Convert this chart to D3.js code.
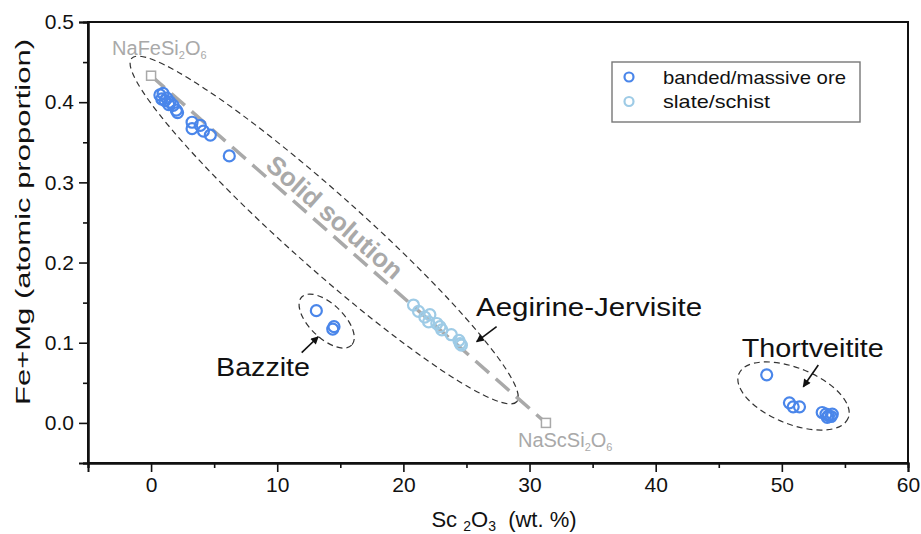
<!DOCTYPE html>
<html>
<head>
<meta charset="utf-8">
<script src="https://cdn.jsdelivr.net/npm/d3@7"></script>
<style>
  body { margin: 0; background: #fff; }
  svg text { font-family: "Liberation Sans", Arial, sans-serif; }
</style>
</head>
<body>
<div id="chart"></div>
<script>
// Sc2O3 (wt.%) vs Fe+Mg (apfu)
var oreSc    = [0.7, 0.85, 0.95, 1.1, 1.25, 1.4, 1.5, 1.75, 2.0, 2.1, 3.25, 3.25, 3.9, 4.15, 4.7, 6.2,
                13.1, 14.4, 14.5,
                48.8, 50.6, 50.9, 51.4, 53.2, 53.5, 53.6, 53.7, 53.9, 54.0];
var oreFeMg  = [0.409, 0.404, 0.411, 0.402, 0.405, 0.397, 0.400, 0.396, 0.390, 0.387, 0.375, 0.367, 0.371, 0.364, 0.359, 0.333,
                0.140, 0.117, 0.120,
                0.060, 0.025, 0.020, 0.020, 0.013, 0.011, 0.007, 0.009, 0.008, 0.011];
var slateSc   = [20.8, 21.2, 21.7, 22.1, 22.0, 22.65, 22.9, 23.05, 23.8, 24.4, 24.5, 24.6];
var slateFeMg = [0.147, 0.139, 0.132, 0.135, 0.126, 0.124, 0.120, 0.116, 0.110, 0.103, 0.099, 0.097];

var endNames = ["NaFeSi", "NaScSi"];
var endSc    = [0, 31.3];
var endFeMg  = [0.433, 0];

var xTicks = [0, 10, 20, 30, 40, 50, 60];
var xMinor = [-5, 5, 15, 25, 35, 45, 55];
var yTicks = [0.0, 0.1, 0.2, 0.3, 0.4, 0.5];
var yMinor = [-0.05, 0.05, 0.15, 0.25, 0.35, 0.45];

var seriesNames = ["banded/massive ore", "slate/schist"];

// field ellipses: tip-to-tip in data units
var fieldTips = [
  [[-1.54, 0.4547], [28.98, 0.0264]],
  [[11.94, 0.157], [15.9, 0.097]],
  [[46.59, 0.0611], [55.26, 0.006]]
];
var fieldNames = ["Aegirine-Jervisite", "Bazzite", "Thortveitite"];
var arrowFrom = [[27.39, 0.120], [11.94, 0.0876], [52.89, 0.0722]];
var arrowTo   = [[25.81, 0.1013], [13.25, 0.1075], [51.70, 0.0451]];
var labelAt   = [[25.76, 0.1333], [5.15, 0.0585], [46.82, 0.0826]];

var width = 921, height = 534;
var margin = {top: 22, right: 13, bottom: 71, left: 88};
var oreColor = "#4a86ea", slateColor = "#9ecbe6", grey = "#a9a9a9";

var svg = d3.select("#chart").append("svg")
  .attr("width", width).attr("height", height);

var defs = svg.append("defs");
defs.append("marker").attr("id", "head")
  .attr("viewBox", "0 0 10 10").attr("refX", 9).attr("refY", 5)
  .attr("markerWidth", 9).attr("markerHeight", 8).attr("markerUnits", "userSpaceOnUse")
  .attr("orient", "auto")
  .append("path").attr("d", "M0,0 L10,5 L0,10 Z").attr("fill", "#111");

var x = d3.scaleLinear().domain([-5, 60]).range([margin.left, width - margin.right]);
var y = d3.scaleLinear().domain([-0.05, 0.5]).range([height - margin.bottom, margin.top]);

// frame
svg.append("rect")
  .attr("x", x(-5)).attr("y", y(0.5))
  .attr("width", x(60) - x(-5)).attr("height", y(-0.05) - y(0.5))
  .attr("fill", "none").attr("stroke", "#111").attr("stroke-width", 2);

function styleAxis(g) {
  g.select(".domain").attr("stroke", "#111").attr("stroke-width", 2);
  g.selectAll(".tick line").attr("stroke", "#111").attr("stroke-width", 1.6);
  g.selectAll(".tick text").attr("fill", "#111").style("font-size", "21px")
    .style("font-family", "'Liberation Sans', Arial, sans-serif");
}

var xb = svg.append("g").attr("transform", "translate(0," + y(-0.05) + ")");
xb.call(d3.axisBottom(x).tickValues(xMinor).tickSize(5).tickFormat("")).call(styleAxis);
xb.append("g").call(d3.axisBottom(x).tickValues(xTicks).tickSize(9).tickPadding(5).tickFormat(d3.format("d"))).call(styleAxis);

var yl = svg.append("g").attr("transform", "translate(" + x(-5) + ",0)");
yl.call(d3.axisLeft(y).tickValues(yMinor).tickSize(5).tickFormat("")).call(styleAxis);
yl.append("g").call(d3.axisLeft(y).tickValues(yTicks).tickSize(9).tickPadding(5).tickFormat(d3.format(".1f"))).call(styleAxis);

// axis titles
var xt = svg.append("text").attr("x", 504).attr("y", 527)
  .attr("text-anchor", "middle").attr("fill", "#111").style("font-size", "22px");
xt.append("tspan").text("Sc ");
xt.append("tspan").text("2").attr("dy", 4).style("font-size", "14px");
xt.append("tspan").text("O").attr("dy", -4);
xt.append("tspan").text("3").attr("dy", 4).style("font-size", "14px");
xt.append("tspan").text("  (wt. %)").attr("dy", -4).style("white-space", "pre");

svg.append("text")
  .attr("transform", "translate(30,222) rotate(-90)")
  .attr("text-anchor", "middle").attr("fill", "#111").style("font-size", "21px")
  .attr("textLength", 366).attr("lengthAdjust", "spacingAndGlyphs")
  .text("Fe+Mg (atomic proportion)");

// solid-solution tie line
svg.append("line")
  .attr("x1", x(endSc[0])).attr("y1", y(endFeMg[0]))
  .attr("x2", x(endSc[1])).attr("y2", y(endFeMg[1]))
  .attr("stroke", grey).attr("stroke-width", 3.5).attr("stroke-dasharray", "18,9");

svg.selectAll(".endm").data(endSc).enter().append("rect")
  .attr("class", "endm")
  .attr("x", function(d) { return x(d) - 4.5; })
  .attr("y", function(d, i) { return y(endFeMg[i]) - 4.5; })
  .attr("width", 9).attr("height", 9)
  .attr("fill", "#fff").attr("stroke", grey).attr("stroke-width", 1.5);

function formula(px, py, stem) {
  var t = svg.append("text").attr("x", px).attr("y", py)
    .attr("fill", grey).style("font-size", "20px");
  t.append("tspan").text(stem);
  t.append("tspan").text("2").attr("dy", 4).style("font-size", "11px");
  t.append("tspan").text("O").attr("dy", -4);
  t.append("tspan").text("6").attr("dy", 4).style("font-size", "11px");
}
formula(x(endSc[0]) - 39, y(endFeMg[0]) - 21, endNames[0]);
formula(x(endSc[1]) - 28, y(endFeMg[1]) + 24, endNames[1]);

// rotated "Solid solution" label
(function() {
  var x1 = x(endSc[0]), y1 = y(endFeMg[0]), x2 = x(endSc[1]), y2 = y(endFeMg[1]);
  var ang = Math.atan2(y2 - y1, x2 - x1) * 180 / Math.PI;
  var cx = x1 + (x2 - x1) * 0.44, cy = y1 + (y2 - y1) * 0.44;
  svg.append("text")
    .attr("transform", "translate(" + cx + "," + cy + ") rotate(" + ang + ") translate(0,-6)")
    .attr("text-anchor", "middle").attr("fill", grey)
    .style("font-size", "26px").style("font-weight", "bold")
    .text("Solid solution");
})();

// dashed field ellipses
var fieldHalf = [37, 17, 28];
fieldTips.forEach(function(tp, i) {
  var ax = x(tp[0][0]), ay = y(tp[0][1]), bx = x(tp[1][0]), by = y(tp[1][1]);
  var cx = (ax + bx) / 2, cy = (ay + by) / 2;
  var a = Math.hypot(bx - ax, by - ay) / 2;
  var ang = Math.atan2(by - ay, bx - ax) * 180 / Math.PI;
  svg.append("ellipse")
    .attr("transform", "translate(" + cx + "," + cy + ") rotate(" + ang + ")")
    .attr("rx", a).attr("ry", fieldHalf[i])
    .attr("fill", "none").attr("stroke", "#333").attr("stroke-width", 1.2)
    .attr("stroke-dasharray", "6,4");
});

// arrows + labels
var labelLen = [226, 94, 142];
fieldNames.forEach(function(name, i) {
  svg.append("line")
    .attr("x1", x(arrowFrom[i][0])).attr("y1", y(arrowFrom[i][1]))
    .attr("x2", x(arrowTo[i][0])).attr("y2", y(arrowTo[i][1]))
    .attr("stroke", "#111").attr("stroke-width", 1.6)
    .attr("marker-end", "url(#head)");
  svg.append("text")
    .attr("x", x(labelAt[i][0])).attr("y", y(labelAt[i][1]))
    .attr("fill", "#111").style("font-size", "26px")
    .attr("textLength", labelLen[i]).attr("lengthAdjust", "spacingAndGlyphs")
    .text(name);
});

// points
svg.append("g").selectAll("circle").data(oreSc).enter().append("circle")
  .attr("cx", function(d) { return x(d); })
  .attr("cy", function(d, i) { return y(oreFeMg[i]); })
  .attr("r", 5.5).attr("fill", "none").attr("stroke", oreColor).attr("stroke-width", 2.2);

svg.append("g").selectAll("circle").data(slateSc).enter().append("circle")
  .attr("cx", function(d) { return x(d); })
  .attr("cy", function(d, i) { return y(slateFeMg[i]); })
  .attr("r", 5.5).attr("fill", "none").attr("stroke", slateColor).attr("stroke-width", 2.2);

// legend
var legendLen = [183, 107];
var lg = svg.append("g").attr("transform", "translate(612,62)");
lg.append("rect").attr("width", 248).attr("height", 60)
  .attr("fill", "#fff").attr("stroke", "#777").attr("stroke-width", 1.4);
lg.selectAll("circle").data(seriesNames).enter().append("circle")
  .attr("cx", 17).attr("cy", function(d, i) { return 15 + i * 24.5; })
  .attr("r", 4.5).attr("fill", "none")
  .attr("stroke", function(d, i) { return i ? slateColor : oreColor; }).attr("stroke-width", 2.2);
lg.selectAll("text").data(seriesNames).enter().append("text")
  .attr("x", 51).attr("y", function(d, i) { return 21.5 + i * 24.5; })
  .attr("fill", "#111").style("font-size", "19px")
  .attr("textLength", function(d, i) { return legendLen[i]; })
  .attr("lengthAdjust", "spacingAndGlyphs")
  .text(function(d) { return d; });
</script>
</body>
</html>
